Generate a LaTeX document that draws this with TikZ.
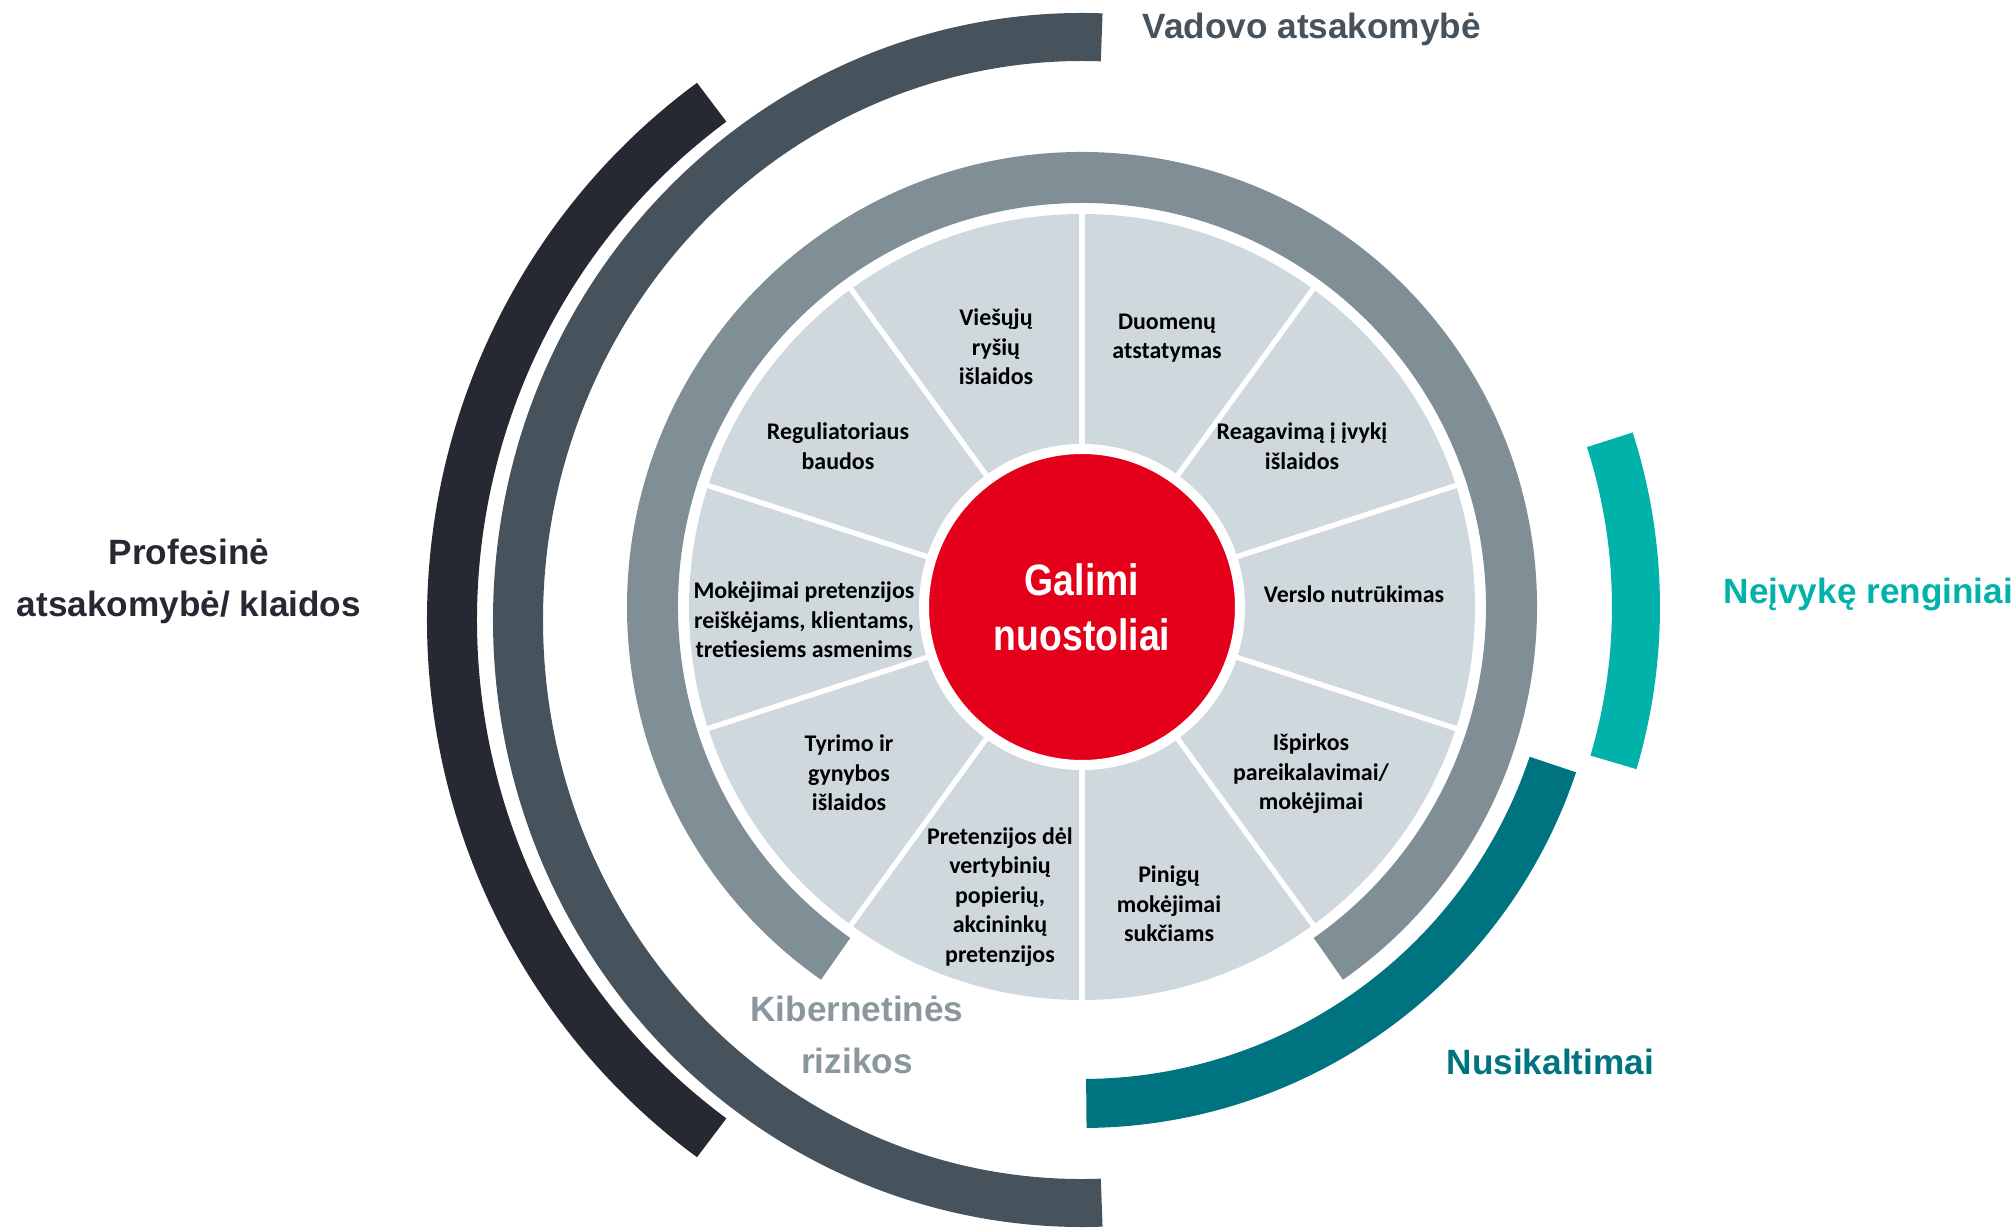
\documentclass[tikz,border=0pt]{standalone}
\usepackage{fontspec}
\setmainfont{Liberation Sans}
\newfontfamily\wedgefont{Carlito}
\newfontfamily\narrowfont[FakeStretch=0.85]{Liberation Sans}
\definecolor{ringblack}{RGB}{38,40,50}
\definecolor{ringdark}{RGB}{70,82,92}
\definecolor{ringmid}{RGB}{128,143,150}
\definecolor{discgrey}{RGB}{207,217,221}
\definecolor{lossred}{RGB}{228,0,27}
\definecolor{tealbright}{RGB}{0,178,169}
\definecolor{tealdark}{RGB}{0,115,129}
\definecolor{cybergrey}{RGB}{138,151,157}
\tikzset{
  wedge/.style={font=\wedgefont\bfseries\fontsize{6.8}{8.4}\selectfont,align=center,text=black,inner sep=0pt},
  outer/.style={font=\bfseries\fontsize{10}{14.8}\selectfont,align=center,inner sep=0pt},
}

\begin{document}
\begin{tikzpicture}[x=0.01cm,y=0.01cm]
\useasboundingbox (-1082,-620) rectangle (934,607);
\begin{scope}[shift={(0,-13)}]
\fill[ringblack](126:655 and 664) arc[start angle=126,end angle=234,x radius=655,y radius=664]--(234:605 and 616) arc[start angle=234,end angle=126,x radius=605,y radius=616]--cycle;
\fill[ringdark](88:589 and 607) arc[start angle=88,end angle=272,x radius=589,y radius=607]--(272:539 and 559) arc[start angle=272,end angle=88,x radius=539,y radius=559]--cycle;
\end{scope}
\fill[ringmid](-55:455) arc[start angle=-55,end angle=235,radius=455]--(235:404) arc[start angle=235,end angle=-55,radius=404]--cycle;
\fill[tealdark](-89.5:521) arc[start angle=-89.5,end angle=-18.5,radius=521]--(-18.5:472) arc[start angle=-18.5,end angle=-89.5,radius=472]--cycle;
\begin{scope}[shift={(7,0)}]
\fill[tealbright](-16.5:571) arc[start angle=-16.5,end angle=17.8,radius=571]--(17.8:523) arc[start angle=17.8,end angle=-16.5,radius=523]--cycle;
\end{scope}
\fill[discgrey](0,0) circle[radius=393];
\foreach \a in {90,126,...,414} \draw[white,line width=1.5pt](0,0)--(\a:400);
\filldraw[fill=lossred,draw=white,line width=2.85pt](0,0) circle[radius=158];
\node[font=\narrowfont\bfseries\fontsize{12.5}{15.6}\selectfont,text=white,align=center] (loss) at (0,0) {Galimi\\nuostoliai};
\node[wedge] (pr) at (-86,260) {Viešųjų\\ryšių\\išlaidos};
\node[wedge] (data) at (85,269) {Duomenų\\atstatymas};
\node[wedge] (fines) at (-244,161) {Reguliatoriaus\\baudos};
\node[wedge] (resp) at (220,161) {Reagavimą į įvykį\\išlaidos};
\node[wedge] (claims) at (-278,-13) {Mokėjimai pretenzijos\\reiškėjams, klientams,\\tretiesiems asmenims};
\node[wedge] (bi) at (272,13) {Verslo nutrūkimas};
\node[wedge] (inv) at (-233,-166) {Tyrimo ir\\gynybos\\išlaidos};
\node[wedge] (ransom) at (229,-167) {Išpirkos\\pareikalavimai/\\mokėjimai};
\node[wedge] (sec) at (-82,-290) {Pretenzijos dėl\\vertybinių\\popierių,\\akcininkų\\pretenzijos};
\node[wedge] (fraud) at (87,-297) {Pinigų\\mokėjimai\\sukčiams};
\node[outer,text=ringdark,anchor=base west] (dno) at (60,568) {Vadovo atsakomybė};
\node[outer,text=ringblack] (pi) at (-893,26) {Profesinė\\atsakomybė/ klaidos};
\node[outer,text=tealbright,anchor=west] (event) at (641,13) {Neįvykę renginiai};
\node[outer,text=tealdark,anchor=west] (crime) at (364,-455) {Nusikaltimai};
\node[outer,text=cybergrey] (cyber) at (-225,-428) {Kibernetinės\\rizikos};
\end{tikzpicture}
\end{document}
